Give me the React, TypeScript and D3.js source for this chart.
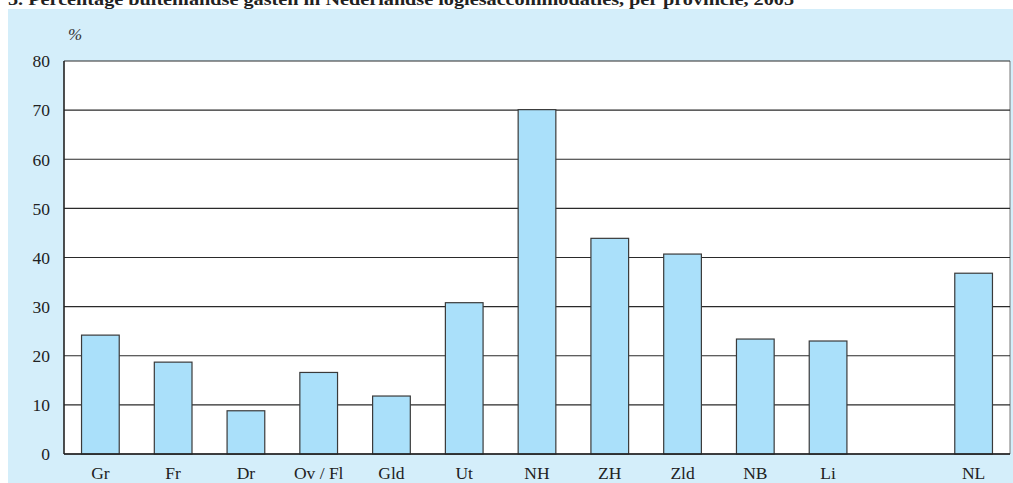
import React from "react";
import * as d3 from "d3";

const title =
  "5. Percentage buitenlandse gasten in Nederlandse logiesaccommodaties, per provincie, 2005";
const unitLabel = "%";
const categories = ["Gr", "Fr", "Dr", "Ov / Fl", "Gld", "Ut", "NH", "ZH", "Zld", "NB", "Li", "NL"];
const values = [24.2, 18.7, 8.8, 16.6, 11.8, 30.8, 70.1, 43.9, 40.7, 23.4, 23.0, 36.8];
const yTicks = [0, 10, 20, 30, 40, 50, 60, 70, 80];
const gapBefore = "NL";

const W = 1013;
const H = 483;
const plot = { left: 64, right: 1010, top: 61, bottom: 454 };
const serif = "'Liberation Serif', 'DejaVu Serif', serif";

export default function App() {
  const slots: string[] = [];
  categories.forEach((c) => {
    if (c === gapBefore) slots.push("__gap");
    slots.push(c);
  });
  const x = d3
    .scaleBand<string>()
    .domain(slots)
    .range([plot.left, plot.right])
    .paddingInner(0.482)
    .paddingOuter(0.241);
  const y = d3.scaleLinear().domain([0, 80]).range([plot.bottom, plot.top]);

  return (
    <svg
      width={W}
      height={H}
      style={{ position: "absolute", left: 0, top: 0, display: "block" }}
    >
      <rect x={0} y={0} width={W} height={H} fill="#ffffff" />
      <text
        x={8}
        y={5}
        fontFamily={serif}
        fontWeight="bold"
        fontSize={17}
        fill="#222"
        textLength={786}
        lengthAdjust="spacingAndGlyphs"
      >
        {title}
      </text>
      <rect x={8} y={9} width={W - 8} height={H - 9} fill="#d4eefa" />
      <rect
        x={plot.left}
        y={plot.top}
        width={plot.right - plot.left}
        height={plot.bottom - plot.top}
        fill="#ffffff"
      />
      <line
        x1={plot.right}
        x2={plot.right}
        y1={plot.top}
        y2={plot.bottom}
        stroke="#777"
        strokeWidth={1}
      />
      {yTicks.map((t) => (
        <line
          key={"g" + t}
          x1={plot.left}
          x2={plot.right}
          y1={y(t)}
          y2={y(t)}
          stroke="#2a2a2a"
          strokeWidth={1.1}
        />
      ))}
      {categories.map((c, i) => (
        <rect
          key={c}
          x={x(c)!}
          y={y(values[i])}
          width={x.bandwidth()}
          height={y(0) - y(values[i])}
          fill="#aae0fa"
          stroke="#3a3a3a"
          strokeWidth={1.2}
        />
      ))}
      <line
        x1={plot.left}
        x2={plot.left}
        y1={plot.top}
        y2={plot.bottom}
        stroke="#222"
        strokeWidth={1.6}
      />
      <line
        x1={plot.left}
        x2={plot.right}
        y1={plot.bottom}
        y2={plot.bottom}
        stroke="#222"
        strokeWidth={1.6}
      />
      {yTicks.map((t) => (
        <text
          key={"t" + t}
          x={50}
          y={y(t)}
          dy="0.36em"
          textAnchor="end"
          fontFamily={serif}
          fontSize={17.5}
          fill="#222"
        >
          {t}
        </text>
      ))}
      {categories.map((c) => (
        <text
          key={"x" + c}
          x={x(c)! + x.bandwidth() / 2}
          y={479}
          textAnchor="middle"
          fontFamily={serif}
          fontSize={17.5}
          fill="#222"
        >
          {c}
        </text>
      ))}
      <text
        x={68}
        y={40}
        fontFamily={serif}
        fontStyle="italic"
        fontSize={17}
        fill="#333"
      >
        {unitLabel}
      </text>
    </svg>
  );
}
